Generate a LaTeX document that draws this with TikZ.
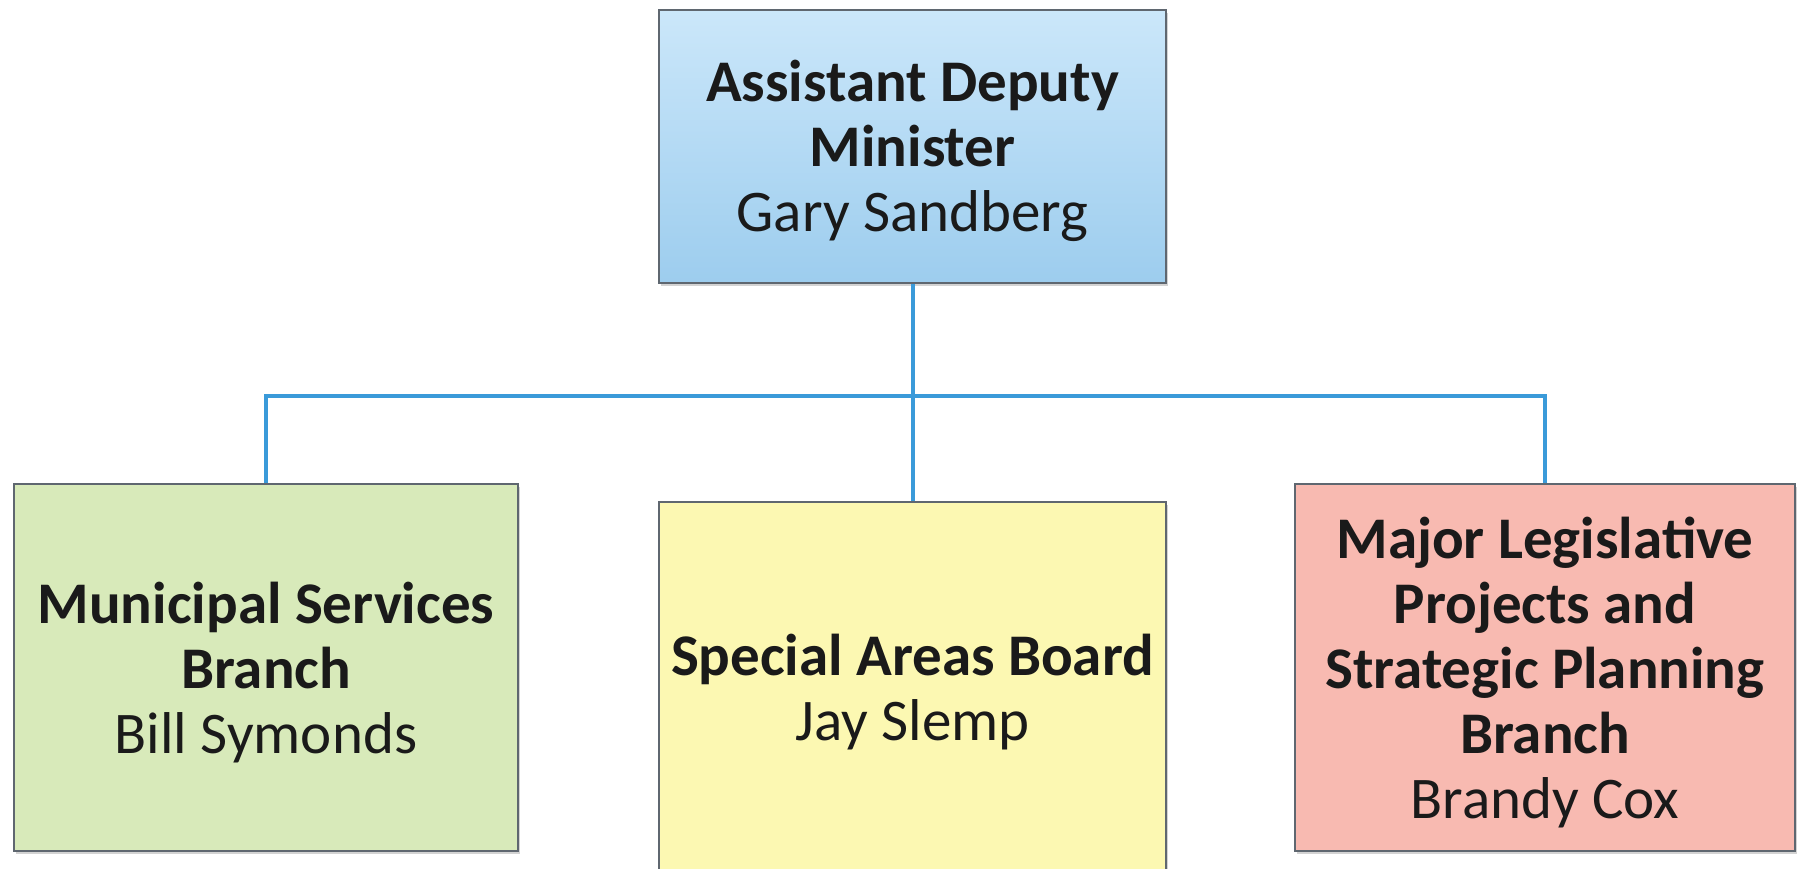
\documentclass[tikz,border=0pt]{standalone}
\usepackage{fontspec}
\setmainfont{Carlito}
\usetikzlibrary{shadows}
\definecolor{linkblue}{HTML}{3A9AD9}
\definecolor{boxedge}{HTML}{5F6770}
\definecolor{topA}{HTML}{CBE7FA}
\definecolor{topB}{HTML}{9DCDEE}
\definecolor{greenbox}{HTML}{D8EABA}
\definecolor{yellowbox}{HTML}{FCF8B2}
\definecolor{pinkbox}{HTML}{F8BAB1}
\definecolor{textdark}{HTML}{1A1A1A}
\tikzset{
  orgbox/.style={draw=boxedge, line width=1pt, inner sep=0pt,
    drop shadow={shadow xshift=1pt, shadow yshift=-1.5pt, opacity=0.35}},
  boxtext/.style={align=center, inner sep=0pt, text=textdark,
    font=\fontsize{29.5}{32.5}\selectfont, yshift=-2.5pt},
  link/.style={draw=linkblue, line width=2pt}
}
\begin{document}
\begin{tikzpicture}[x=0.5pt,y=-0.5pt]
\useasboundingbox (0,0) rectangle (1798,868);
\node[orgbox, top color=topA, bottom color=topB, minimum width=253.5pt, minimum height=136.5pt,
  label={[boxtext]center:{\textbf{Assistant Deputy}\\\textbf{Minister}\\Gary Sandberg}}]
  (adm) at (912.5,146) {};
\node[orgbox, fill=greenbox, minimum width=252pt, minimum height=183.5pt,
  label={[boxtext]center:{\textbf{Municipal Services}\\\textbf{Branch}\\Bill Symonds}}]
  (msb) at (266,667.5) {};
\node[orgbox, fill=yellowbox, minimum width=253.5pt, minimum height=185pt,
  label={[boxtext]center:{\textbf{Special Areas Board}\\Jay Slemp}}]
  (sab) at (912.5,687) {};
\node[orgbox, fill=pinkbox, minimum width=250pt, minimum height=183.5pt,
  label={[boxtext]center:{\textbf{Major Legislative}\\\textbf{Projects and}\\\textbf{Strategic Planning}\\\textbf{Branch}\\Brandy Cox}}]
  (mlp) at (1545,667.5) {};
\coordinate (bus) at (912.5,396);
\draw[link] (adm.south) -- (bus);
\draw[link] (msb.north) |- (bus) -| (mlp.north);
\draw[link] (bus) -- (sab.north);
\end{tikzpicture}
\end{document}
